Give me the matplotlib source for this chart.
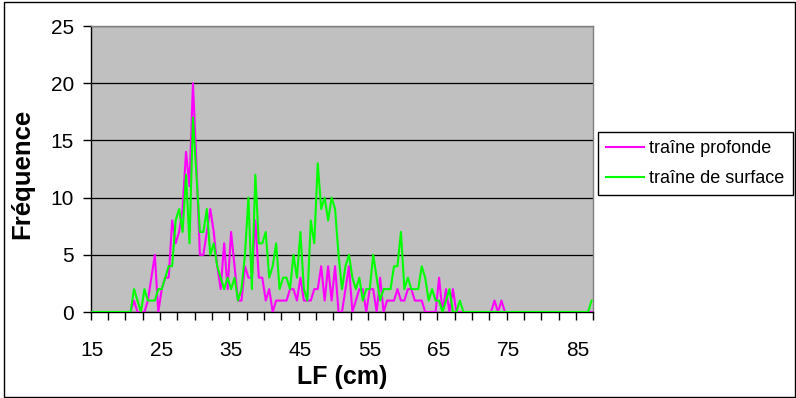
import numpy as np
import matplotlib.pyplot as plt
from matplotlib.patches import Rectangle

plt.rcParams['font.family'] = ['Liberation Sans', 'DejaVu Sans']

# length classes (cm), step 0.5
lf = np.arange(15, 87.5, 0.5)

# traîne profonde
profonde = [
    0, 0, 0, 0, 0, 0, 0, 0, 0, 0,      # 15 - 19.5
    0, 0, 1, 0, 0, 0, 1, 3, 5, 0,      # 20 - 24.5
    2, 3, 3, 8, 6, 7, 9, 14, 11, 20,   # 25 - 29.5
    13, 5, 5, 7, 9, 7, 4, 2, 6, 2,     # 30 - 34.5
    7, 4, 1, 1, 4, 3, 3, 8, 3, 3,      # 35 - 39.5
    1, 2, 0, 1, 1, 1, 1, 2, 2, 1,      # 40 - 44.5
    3, 1, 1, 1, 2, 2, 4, 1, 4, 1,      # 45 - 49.5
    4, 0, 0, 2, 4, 0, 1, 2, 2, 0,      # 50 - 54.5
    2, 2, 0, 3, 0, 1, 1, 1, 2, 1,      # 55 - 59.5
    1, 2, 2, 1, 1, 1, 0, 0, 0, 0,      # 60 - 64.5
    3, 0, 2, 0, 2, 0, 0, 0, 0, 0,      # 65 - 69.5
    0, 0, 0, 0, 0, 0, 1, 0, 1, 0,      # 70 - 74.5
    0, 0, 0, 0, 0, 0, 0, 0, 0, 0,      # 75 - 79.5
    0, 0, 0, 0, 0, 0, 0, 0, 0, 0,      # 80 - 84.5
    0, 0, 0, 0, 0,                     # 85 - 87
]

# traîne de surface
surface = [
    0, 0, 0, 0, 0, 0, 0, 0, 0, 0,      # 15 - 19.5
    0, 0, 2, 1, 0, 2, 1, 1, 1, 2,      # 20 - 24.5
    2, 3, 4, 4, 8, 9, 7, 12, 6, 17,    # 25 - 29.5
    12, 7, 7, 9, 5, 6, 4, 3, 2, 3,     # 30 - 34.5
    2, 3, 1, 2, 5, 10, 2, 12, 6, 6,    # 35 - 39.5
    7, 3, 4, 6, 2, 3, 3, 2, 5, 3,      # 40 - 44.5
    7, 2, 1, 8, 6, 13, 9, 10, 8, 10,   # 45 - 49.5
    9, 5, 2, 4, 5, 3, 2, 3, 1, 2,      # 50 - 54.5
    2, 5, 3, 1, 2, 2, 2, 4, 4, 7,      # 55 - 59.5
    2, 3, 2, 2, 2, 4, 3, 1, 2, 1,      # 60 - 64.5
    1, 0, 1, 2, 0, 0, 1, 0, 0, 0,      # 65 - 69.5
    0, 0, 0, 0, 0, 0, 0, 0, 0, 0,      # 70 - 74.5
    0, 0, 0, 0, 0, 0, 0, 0, 0, 0,      # 75 - 79.5
    0, 0, 0, 0, 0, 0, 0, 0, 0, 0,      # 80 - 84.5
    0, 0, 0, 0, 1,                     # 85 - 87
]

x_labels = [15, 25, 35, 45, 55, 65, 75, 85]
y_ticks = [0, 5, 10, 15, 20, 25]

fig = plt.figure(figsize=(7.96, 3.98), dpi=100)
ax = fig.add_axes([90.7 / 796, 1 - 312 / 398, (593.3 - 90.7) / 796, (312 - 26) / 398])
ax.set_facecolor('#c0c0c0')

ax.plot(lf, profonde, color='#ff00ff', lw=1.5, label='traîne profonde', zorder=3)
ax.plot(lf, surface, color='#00ff00', lw=1.5, label='traîne de surface', zorder=4)

ax.set_xlim(14.75, 87.25)
ax.set_ylim(0, 25)

ax.set_yticks(y_ticks)
ax.yaxis.grid(True, color='black', lw=0.9)
ax.set_axisbelow(True)
ax.tick_params(axis='y', direction='out', length=6, width=1, labelsize=15, pad=6)

ax.set_xticks(x_labels)
ax.set_xticks(np.arange(14.75, 87.3, 2.5), minor=True)
ax.tick_params(axis='x', which='major', length=0, labelsize=15, pad=21)
ax.tick_params(axis='x', which='minor', direction='out', length=6, width=1)

for side in ['left', 'bottom']:
    ax.spines[side].set_color('black')
    ax.spines[side].set_linewidth(1)
for side in ['top', 'right']:
    ax.spines[side].set_color('#808080')
    ax.spines[side].set_linewidth(1)

fig.text(342 / 796, 1 - 377 / 398, 'LF (cm)', fontsize=18, fontweight='bold',
         ha='center', va='center')
fig.text(22 / 796, 1 - 174 / 398, 'Fréquence', fontsize=18.5, fontweight='bold',
         ha='center', va='center', rotation=90)

leg = ax.legend(loc='upper left', bbox_to_anchor=(598 / 796, 1 - 131.7 / 398),
                bbox_transform=fig.transFigure, borderaxespad=0, fontsize=13,
                frameon=True, fancybox=False, edgecolor='black', framealpha=1,
                handlelength=2.1, handletextpad=0.3, labelspacing=0.75, borderpad=0.45)
leg.get_frame().set_linewidth(1)

fig.patches.append(Rectangle((3.5 / 796, 1.5 / 398), 791 / 796, 395 / 398,
                             transform=fig.transFigure, fill=False,
                             edgecolor='black', lw=1))

plt.savefig('out.png', dpi=100)
